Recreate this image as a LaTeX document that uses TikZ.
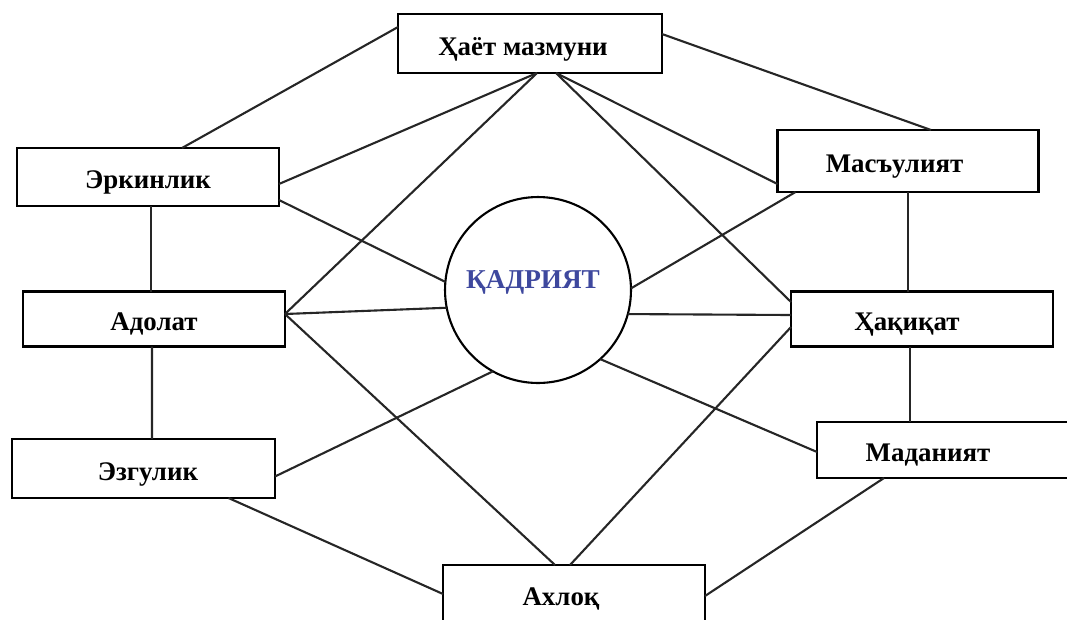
\documentclass[tikz,border=0pt]{standalone}
\usepackage{fontspec}
\setmainfont{Liberation Serif}
\usetikzlibrary{calc}
\definecolor{kadrblue}{RGB}{62,72,158}

\begin{document}
\begin{tikzpicture}[x=0.02cm,y=-0.02cm,every node/.style={outer sep=0pt,line width=1.2pt}]

\tikzstyle{box}=[draw,rectangle,minimum width=5.24cm,minimum height=1.16cm,text height=13.4pt,text depth=0pt,font=\fontsize{15.3}{18}\selectfont\bfseries]
\tikzstyle{link}=[line width=1.2pt,black!85]

\useasboundingbox (0,0) rectangle (1067,619);

\node (kadr) at (538,290) [draw,circle,minimum size=3.72cm] {};
\node (kadrtext) at (533,282) [kadrblue,font=\fontsize{15.5}{18}\selectfont\bfseries] {ҚАДРИЯТ};

\node (hayot) at (530,43.5) [box,minimum width=5.28cm,minimum height=1.18cm] {Ҳаёт мазмуни\hspace*{0.28cm}};
\node (erkin) at (148,177) [box] {Эркинлик};
\node (adolat) at (154,319) [box,minimum height=1.1cm] {Адолат};
\node (ezgu) at (143.5,468.5) [box,minimum width=5.26cm,minimum height=1.18cm] {\hspace*{0.18cm}Эзгулик};
\node (ahloq) at (574,594) [box] {Ахлоқ\hspace*{0.52cm}};
\node (masul) at (908,161) [box,minimum width=5.22cm,minimum height=1.24cm] {Масъулият\hspace*{0.54cm}};
\node (haqiqat) at (922,319) [box,minimum height=1.1cm] {Ҳақиқат\hspace*{0.6cm}};
\node (madan) at (948,450) [box,minimum height=1.12cm] {Маданият\hspace*{0.8cm}};

% lines from the top box
\draw[link] ($(hayot.north west)+(0,13)$) -- ($(erkin.north)+(34,0)$);
\draw[link] ($(hayot.north east)+(0,20)$) -- ($(masul.north)+(23,0)$);
\draw[link] ($(hayot.south)+(7,0)$) -- ($(erkin.east)+(0,7)$);
\draw[link] ($(hayot.south)+(7,0)$) -- ($(adolat.east)+(0,-5)$);
\draw[link] ($(hayot.south)+(26,0)$) -- ($(masul.south west)+(0,-8)$);
\draw[link] ($(hayot.south)+(26,0)$) -- ($(haqiqat.west)+(0,-17)$);

% left column
\draw[link] ($(erkin.south)+(3,0)$) -- ($(adolat.north)+(-3,0)$);
\draw[link] ($(adolat.south)+(-2,0)$) -- ($(ezgu.north)+(8.5,0)$);
\draw[link] ($(erkin.south east)+(0,-6)$) -- (kadr.175);
\draw[link] ($(adolat.east)+(0,-5)$) -- (kadr.191);
\draw[link] ($(adolat.east)+(0,-5)$) -- ($(ahloq.north)+(-19,0)$);
\draw[link] ($(ezgu.east)+(0,8)$) -- (kadr.241);
\draw[link] ($(ezgu.south)+(85,0)$) -- (ahloq.west);

% right column
\draw[link] (masul.south) -- (masul.south |- haqiqat.north);
\draw[link] ($(haqiqat.south)+(-12,0)$) -- ($(madan.north)+(-38,0)$);
\draw[link] ($(masul.south west)+(18,0)$) -- (kadr.1);
\draw[link] (kadr.-15) -- ($(haqiqat.west)+(0,-4)$);
\draw[link] (kadr.-48) -- ($(madan.west)+(0,2)$);
\draw[link] ($(madan.south)+(-64,0)$) -- ($(ahloq.east)+(0,2)$);
\draw[link] ($(ahloq.north)+(-4,0)$) -- ($(haqiqat.west)+(0,8)$);
\end{tikzpicture}
\end{document}
